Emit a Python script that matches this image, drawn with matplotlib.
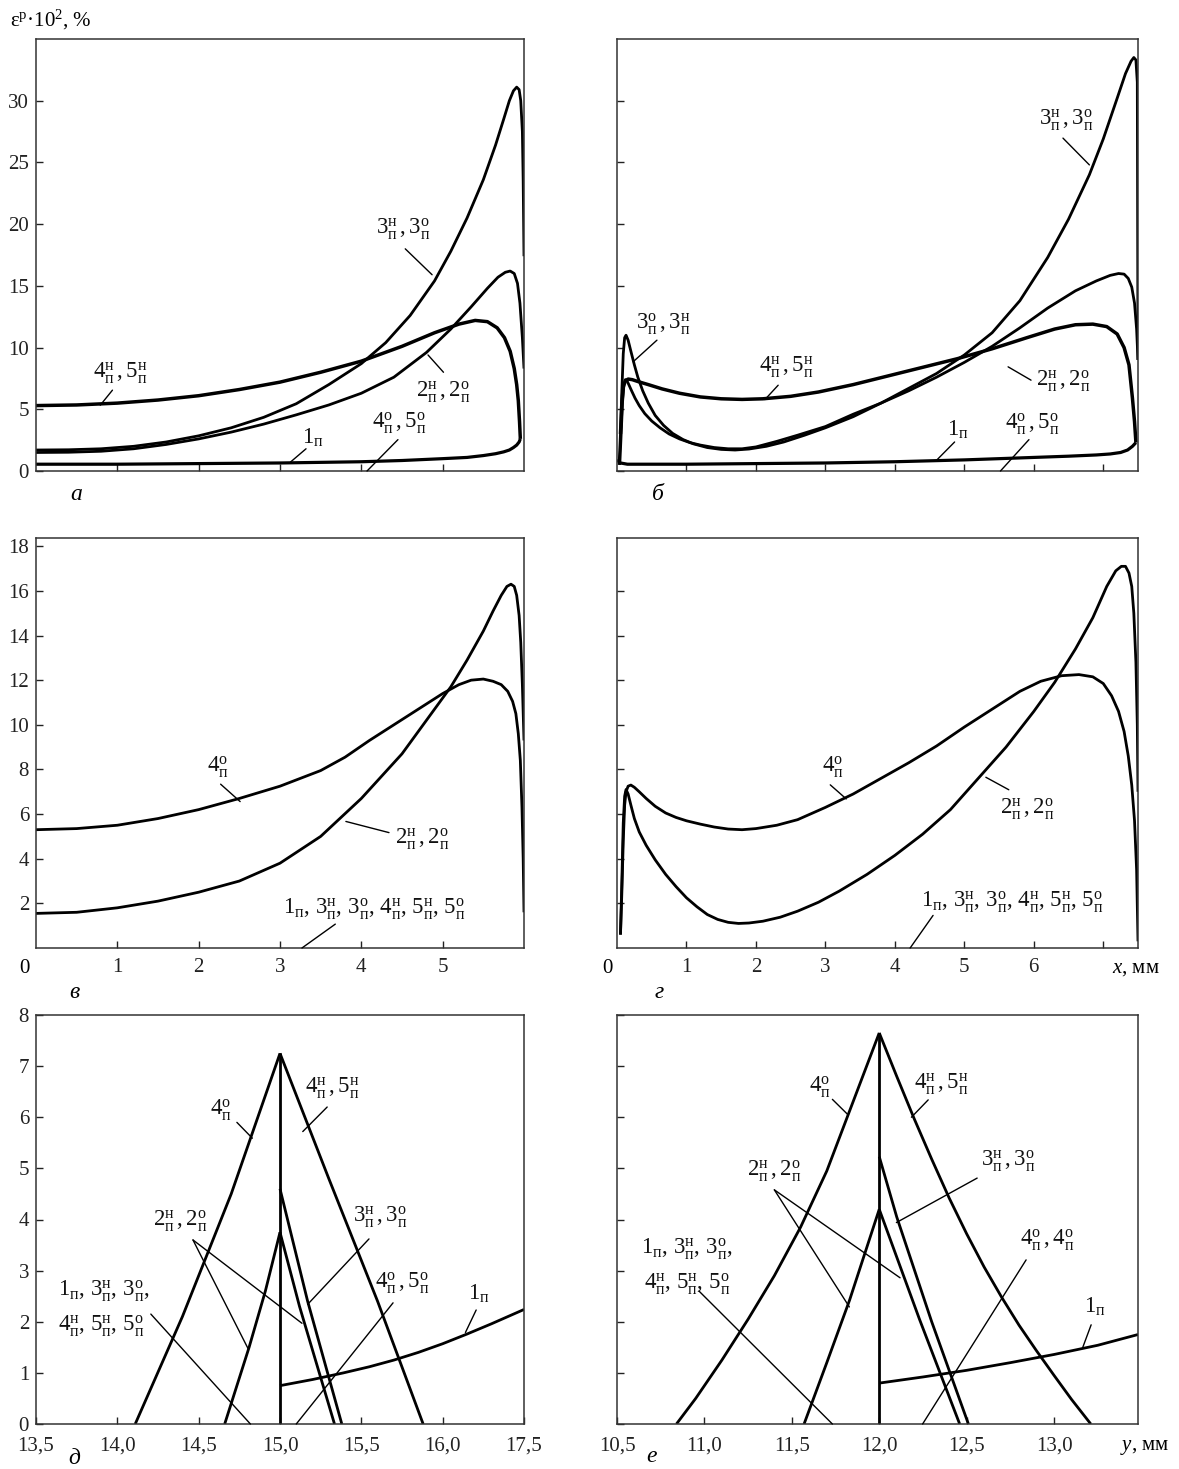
import matplotlib.pyplot as plt

# --- Fonts ---
plt.rcParams['font.family'] = ['Liberation Serif', 'DejaVu Serif']
plt.rcParams['mathtext.fontset'] = 'custom'
plt.rcParams['mathtext.rm'] = 'Liberation Serif'
plt.rcParams['mathtext.it'] = 'Liberation Serif:italic'
plt.rcParams['mathtext.bf'] = 'Liberation Serif:bold'

# --- Data: panel a ---
a_x3 = [0, 0.4, 0.8, 1.2, 1.6, 2.0, 2.4, 2.8, 3.2, 3.6, 4.0, 4.3, 4.6, 4.9, 5.1, 5.3, 5.5, 5.65, 5.75,
        5.82, 5.87, 5.91, 5.94, 5.96, 5.98, 5.99, 6.0]
a_y3 = [1.7, 1.72, 1.8, 2.0, 2.35, 2.85, 3.5, 4.35, 5.45, 7.0, 8.7, 10.4, 12.6, 15.4, 17.8, 20.5, 23.6, 26.4, 28.5,
        30.0, 30.8, 31.1, 30.9, 30.0, 27.5, 23.5, 17.4]
a_x2 = [0, 0.4, 0.8, 1.2, 1.6, 2.0, 2.4, 2.8, 3.2, 3.6, 4.0, 4.4, 4.8, 5.1, 5.35, 5.55, 5.68, 5.77, 5.83,
        5.88, 5.92, 5.95, 5.98, 6.0]
a_y2 = [1.5, 1.52, 1.6, 1.8, 2.15, 2.6, 3.15, 3.8, 4.55, 5.35, 6.3, 7.6, 9.6, 11.5, 13.3, 14.8, 15.7, 16.1, 16.2,
        16.0, 15.2, 13.6, 10.8, 8.3]
a_x4 = [0, 0.5, 1.0, 1.5, 2.0, 2.5, 3.0, 3.5, 4.0, 4.5, 4.9, 5.2, 5.4, 5.55, 5.67, 5.76, 5.83, 5.88, 5.91,
        5.93, 5.945, 5.955]
a_y4 = [5.3, 5.35, 5.5, 5.75, 6.1, 6.6, 7.2, 8.0, 8.9, 10.1, 11.2, 11.9, 12.2, 12.1, 11.6, 10.8, 9.7, 8.3, 7.0,
        5.7, 4.0, 2.6]
a_x1 = [0, 1, 2, 3, 4, 4.5, 5.0, 5.3, 5.5, 5.65, 5.75, 5.82, 5.87, 5.91, 5.94, 5.955]
a_y1 = [0.55, 0.55, 0.6, 0.65, 0.75, 0.85, 1.0, 1.1, 1.25, 1.4, 1.55, 1.7, 1.9, 2.1, 2.35, 2.6]

# --- Data: panel б ---
b_x3 = [0.03, 0.05, 0.07, 0.09, 0.11, 0.13, 0.16, 0.2, 0.25, 0.3, 0.37, 0.45, 0.55, 0.67, 0.8, 0.95, 1.1,
        1.3, 1.5, 1.7, 1.9, 2.15, 2.4, 2.7, 3.0, 3.4, 3.8, 4.2, 4.6, 5.0, 5.4, 5.8, 6.2, 6.5, 6.8, 7.0,
        7.2, 7.32, 7.4, 7.44, 7.47, 7.49, 7.5]
b_y3 = [0.5, 3.0, 6.5, 9.5, 10.8, 11.0, 10.6, 9.7, 8.6, 7.6, 6.5, 5.5, 4.5, 3.7, 3.05, 2.55, 2.2,
        1.9, 1.75, 1.7, 1.78, 2.0, 2.35, 2.9, 3.5, 4.4, 5.5, 6.7, 7.9, 9.4, 11.2, 13.8, 17.3, 20.4, 24.0, 26.9,
        30.2, 32.2, 33.2, 33.5, 33.3, 31.5, 9.0]
b_x2 = [0.04, 0.06, 0.08, 0.1, 0.12, 0.14, 0.17, 0.21, 0.26, 0.32, 0.4, 0.5, 0.62, 0.75, 0.9, 1.05, 1.2,
        1.4, 1.6, 1.8, 2.0, 2.3, 2.6, 3.0, 3.4, 3.8, 4.2, 4.6, 5.0, 5.4, 5.8, 6.2, 6.6, 6.9, 7.1, 7.22,
        7.3, 7.36, 7.41, 7.45, 7.48, 7.5]
b_y2 = [0.5, 3.0, 5.6, 7.0, 7.4, 7.35, 7.0, 6.5, 5.9, 5.3, 4.65, 4.05, 3.5, 3.0, 2.6, 2.3, 2.1,
        1.9, 1.8, 1.8, 1.95, 2.4, 2.9, 3.6, 4.6, 5.5, 6.5, 7.6, 8.8, 10.1, 11.6, 13.2, 14.6, 15.4, 15.85, 16.0,
        15.95, 15.6, 14.9, 13.6, 11.5, 9.0]
b_x4 = [0.05, 0.07, 0.09, 0.12, 0.16, 0.22, 0.3, 0.45, 0.65, 0.9, 1.2, 1.5, 1.8, 2.1, 2.5, 2.9, 3.4,
        3.9, 4.4, 4.9, 5.4, 5.9, 6.3, 6.6, 6.85, 7.05, 7.2, 7.3, 7.37, 7.42, 7.45, 7.47]
b_y4 = [3.0, 5.5, 6.8, 7.3, 7.45, 7.4, 7.25, 7.0, 6.65, 6.3, 6.0, 5.85, 5.8, 5.85, 6.05, 6.4, 7.0,
        7.7, 8.4, 9.1, 9.9, 10.8, 11.5, 11.85, 11.9, 11.7, 11.1, 10.0, 8.6, 5.9, 4.0, 2.3]
b_x1 = [0.0, 0.05, 0.15, 0.5, 1, 2, 3, 4, 5, 5.5, 6, 6.5, 6.9, 7.1, 7.25, 7.35, 7.42, 7.47]
b_y1 = [0.9, 0.65, 0.55, 0.55, 0.55, 0.6, 0.65, 0.75, 0.9, 1.0, 1.1, 1.2, 1.3, 1.38, 1.5, 1.7, 2.0, 2.3]

# --- Data: panel в ---
v_x4 = [0, 0.5, 1.0, 1.5, 2.0, 2.5, 3.0, 3.5, 3.8, 4.1, 4.4, 4.7, 5.0, 5.2, 5.35, 5.5, 5.62, 5.72, 5.8,
        5.86, 5.9, 5.93, 5.955, 5.975, 5.99, 6.0]
v_y4 = [5.3, 5.35, 5.5, 5.8, 6.2, 6.7, 7.25, 7.95, 8.55, 9.3, 10.0, 10.7, 11.4, 11.8, 12.0, 12.05, 11.95, 11.8, 11.5,
        11.05, 10.5, 9.6, 8.4, 6.3, 4.0, 1.6]
v_x2 = [0, 0.5, 1.0, 1.5, 2.0, 2.5, 3.0, 3.5, 4.0, 4.5, 4.8, 5.1, 5.3, 5.5, 5.62, 5.72, 5.79, 5.84, 5.88,
        5.91, 5.94, 5.96, 5.98, 6.0]
v_y2 = [1.55, 1.6, 1.8, 2.1, 2.5, 3.0, 3.8, 5.0, 6.7, 8.7, 10.2, 11.7, 12.9, 14.2, 15.1, 15.8, 16.2, 16.3, 16.2,
        15.8, 14.9, 13.7, 11.8, 9.3]

# --- Data: panel г ---
g_x4 = [0.05, 0.07, 0.09, 0.11, 0.13, 0.16, 0.2, 0.25, 0.32, 0.42, 0.55, 0.7, 0.85, 1.0, 1.2, 1.4, 1.6,
        1.8, 2.0, 2.3, 2.6, 3.0, 3.4, 3.8, 4.2, 4.6, 5.0, 5.4, 5.8, 6.1, 6.4, 6.65, 6.85, 7.0, 7.12, 7.22,
        7.3, 7.36, 7.41, 7.45, 7.48, 7.5]
g_y4 = [0.6, 2.5, 4.8, 6.4, 7.0, 7.25, 7.3, 7.2, 7.0, 6.7, 6.35, 6.05, 5.85, 5.7, 5.55, 5.42, 5.33,
        5.3, 5.35, 5.5, 5.75, 6.3, 6.9, 7.6, 8.3, 9.05, 9.9, 10.7, 11.5, 11.95, 12.2, 12.25, 12.15, 11.85, 11.3, 10.6,
        9.7, 8.6, 7.3, 5.7, 3.5, 0.3]
g_x2 = [0.05, 0.07, 0.09, 0.11, 0.13, 0.16, 0.2, 0.25, 0.32, 0.42, 0.55, 0.7, 0.85, 1.0, 1.15, 1.3, 1.45,
        1.6, 1.75, 1.9, 2.1, 2.35, 2.6, 2.9, 3.2, 3.6, 4.0, 4.4, 4.8, 5.2, 5.6, 6.0, 6.3, 6.6, 6.85, 7.05,
        7.18, 7.26, 7.32, 7.37, 7.41, 7.44, 7.47, 7.49, 7.5]
g_y2 = [0.6, 3.0, 5.6, 6.8, 7.1, 6.9, 6.4, 5.8, 5.2, 4.6, 3.95, 3.3, 2.75, 2.25, 1.85, 1.5, 1.28,
        1.15, 1.1, 1.12, 1.2, 1.38, 1.65, 2.05, 2.55, 3.3, 4.15, 5.1, 6.2, 7.6, 9.0, 10.6, 11.9, 13.4, 14.8, 16.2,
        16.9, 17.1, 17.1, 16.8, 16.2, 15.0, 12.8, 10.0, 7.0]

# --- Data: panel д ---
d_x4o = [14.11, 14.4, 14.7, 15.0]
d_y4o = [0, 2.1, 4.5, 7.25]
d_x4n = [15.0, 15.3, 15.6, 15.88]
d_y4n = [7.25, 4.8, 2.4, 0]
d_xv = [15.0, 15.0]
d_yv = [0, 7.25]
d_x2l = [14.66, 14.81, 14.91, 15.0]
d_y2l = [0, 1.5, 2.6, 3.75]
d_x2r = [15.0, 15.12, 15.335]
d_y2r = [3.75, 2.3, 0]
d_x3r = [15.0, 15.17, 15.38]
d_y3r = [4.6, 2.4, 0]
d_x1 = [15.0, 15.2, 15.39, 15.55, 15.7, 15.85, 16.0, 16.15, 16.3, 16.5]
d_y1 = [0.75, 0.87, 1.0, 1.12, 1.25, 1.4, 1.57, 1.76, 1.96, 2.24]

# --- Data: panel е ---
e_x4o = [10.84, 10.95, 11.1, 11.25, 11.4, 11.55, 11.7, 11.85, 12.0]
e_y4o = [0, 0.5, 1.25, 2.05, 2.9, 3.85, 4.95, 6.3, 7.65]
e_x4n = [12.0, 12.1, 12.2, 12.3, 12.4, 12.5, 12.6, 12.7, 12.8, 12.9, 13.0, 13.1, 13.21]
e_y4n = [7.65, 6.8, 5.97, 5.18, 4.42, 3.72, 3.07, 2.48, 1.93, 1.43, 0.95, 0.48, 0]
e_xv = [12.0, 12.0]
e_yv = [0, 7.65]
e_x2l = [11.57, 11.7, 11.83, 12.0]
e_y2l = [0, 1.2, 2.42, 4.2]
e_x2r = [12.0, 12.23, 12.46]
e_y2r = [4.2, 2.05, 0]
e_x3r = [12.0, 12.1, 12.3, 12.51]
e_y3r = [5.23, 4.05, 2.0, 0]
e_x1 = [12.0, 12.25, 12.5, 12.75, 13.0, 13.25, 13.48]
e_y1 = [0.8, 0.92, 1.05, 1.2, 1.36, 1.54, 1.75]

# --- Tick labels ---
a_yticks = [0, 5, 10, 15, 20, 25, 30]
v_yticks = [2, 4, 6, 8, 10, 12, 14, 16, 18]
v_xticks = [1, 2, 3, 4, 5]
g_xticks = [1, 2, 3, 4, 5, 6, 7]
d_yticks = [0, 1, 2, 3, 4, 5, 6, 7, 8]
d_xticks = [13.5, 14.0, 14.5, 15.0, 15.5, 16.0, 16.5]
d_xlabels = ['13,5', '14,0', '14,5', '15,0', '15,5', '16,0', '17,5']
e_xticks = [10.5, 11.0, 11.5, 12.0, 12.5, 13.0]
e_xlabels = ['10,5', '11,0', '11,5', '12,0', '12,5', '13,0']


def m(n, s=None):
    # curve index with superscript н/о and subscript п
    if s is None:
        return r'%s_{\mathrm{п}}' % n
    return r'%s^{\mathrm{%s}}_{\mathrm{п}}' % (n, s)


def pair(a, b):
    return '$' + a + r'\,,' + b + '$'


L_3n3o = pair(m(3, 'н'), m(3, 'о'))
L_3o3n = pair(m(3, 'о'), m(3, 'н'))
L_4n5n = pair(m(4, 'н'), m(5, 'н'))
L_2n2o = pair(m(2, 'н'), m(2, 'о'))
L_4o5o = pair(m(4, 'о'), m(5, 'о'))
L_4o4o = pair(m(4, 'о'), m(4, 'о'))
L_4o = '$' + m(4, 'о') + '$'
L_1 = '$' + m(1) + '$'
L_all = ('$' + m(1) + '$, $' + m(3, 'н') + '$, $' + m(3, 'о') + '$, $' + m(4, 'н') + '$, $'
         + m(5, 'н') + '$, $' + m(5, 'о') + '$')
L_top = '$' + m(1) + '$, $' + m(3, 'н') + '$, $' + m(3, 'о') + '$,'
L_bot = '$' + m(4, 'н') + '$, $' + m(5, 'н') + '$, $' + m(5, 'о') + '$'

# --- Layout (pixel boxes of the original) ---
W, H = 1179, 1469
fig = plt.figure(figsize=(W / 100, H / 100), dpi=100)


def box(l, t, r, b):
    return [l / W, 1 - b / H, (r - l) / W, (b - t) / H]


ax_a = fig.add_axes(box(36, 39, 524, 471))
ax_b = fig.add_axes(box(617, 39, 1138, 471))
ax_v = fig.add_axes(box(36, 538, 524, 948))
ax_g = fig.add_axes(box(617, 538, 1138, 948))
ax_d = fig.add_axes(box(36, 1015, 524, 1424))
ax_e = fig.add_axes(box(617, 1015, 1138, 1424))

LW = 2.0
FS = 15     # tick labels
LFS = 16.5  # curve labels


def style(ax, xlim, ylim, xt, yt):
    ax.set_xlim(xlim)
    ax.set_ylim(ylim)
    ax.set_xticks(xt)
    ax.set_yticks(yt)
    ax.tick_params(direction='in', length=5, width=1.0, labelsize=FS,
                   top=False, right=False, colors='#222222')
    ax.tick_params(axis='x', pad=7)
    ax.tick_params(axis='y', pad=5)
    for s in ax.spines.values():
        s.set_linewidth(1.1)
        s.set_color('#333333')


def curve(ax, x, y, lw=LW):
    ax.plot(x, y, color='black', lw=lw, solid_capstyle='butt', solid_joinstyle='round')


def label(ax, txt, x, y, leaders=(), fs=LFS):
    ax.text(x, y, txt, ha='center', va='center', fontsize=fs, color='#111111')
    for (x1, y1, x2, y2) in leaders:
        ax.annotate('', xy=(x2, y2), xytext=(x1, y1),
                    arrowprops=dict(arrowstyle='-', lw=1.0, color='black',
                                    shrinkA=0, shrinkB=0))


# --- Panel a ---
style(ax_a, (0, 6), (0, 35), [1, 2, 3, 4, 5], a_yticks)
ax_a.set_xticklabels([])
ax_a.set_yticklabels([str(v) for v in a_yticks])
curve(ax_a, a_x3, a_y3)
curve(ax_a, a_x2, a_y2)
curve(ax_a, a_x4, a_y4, lw=2.5)
curve(ax_a, a_x1, a_y1, lw=2.3)
label(ax_a, L_3n3o, 4.52, 19.6, [(4.54, 18.0, 4.87, 15.9)])
label(ax_a, L_4n5n, 1.04, 7.95, [(0.94, 6.55, 0.79, 5.33)])
label(ax_a, L_2n2o, 5.01, 6.4, [(5.01, 8.0, 4.82, 9.4)])
label(ax_a, L_1, 3.4, 2.7, [(3.32, 1.8, 3.13, 0.73)])
label(ax_a, L_4o5o, 4.47, 3.84, [(4.45, 2.54, 4.07, 0)])

# --- Panel б ---
style(ax_b, (0, 7.5), (0, 35), [1, 2, 3, 4, 5, 6, 7], a_yticks)
ax_b.set_xticklabels([])
ax_b.set_yticklabels([])
curve(ax_b, b_x3, b_y3)
curve(ax_b, b_x2, b_y2)
curve(ax_b, b_x4, b_y4, lw=2.5)
curve(ax_b, b_x1, b_y1, lw=2.3)
label(ax_b, L_3n3o, 6.47, 28.45, [(6.42, 26.97, 6.8, 24.8)])
label(ax_b, L_3o3n, 0.67, 11.9, [(0.575, 10.6, 0.233, 8.85)])
label(ax_b, L_4n5n, 2.43, 8.44, [(2.32, 6.95, 2.13, 5.79)])
label(ax_b, L_2n2o, 6.42, 7.3, [(5.96, 7.36, 5.63, 8.44)])
label(ax_b, L_1, 4.9, 3.3, [(4.86, 2.35, 4.6, 0.87)])
label(ax_b, L_4o5o, 5.98, 3.79, [(5.93, 2.54, 5.52, 0)])

# --- Panel в ---
style(ax_v, (0, 6), (0, 18.37), v_xticks, v_yticks)
ax_v.set_xticklabels([str(v) for v in v_xticks])
ax_v.set_yticklabels([str(v) for v in v_yticks])
curve(ax_v, v_x4, v_y4)
curve(ax_v, v_x2, v_y2)
label(ax_v, L_4o, 2.235, 8.08, [(2.27, 7.34, 2.51, 6.56)])
label(ax_v, L_2n2o, 4.75, 4.88, [(4.34, 5.17, 3.81, 5.67)])
label(ax_v, L_all, 4.155, 1.74, [(3.68, 1.07, 3.27, 0)])
ax_v.annotate('0', xy=(0, 0), xycoords='axes fraction', xytext=(-8, -15),
              textcoords='offset points', ha='center', va='center', fontsize=FS)

# --- Panel г ---
style(ax_g, (0, 7.5), (0, 18.37), g_xticks, v_yticks[:-1])
ax_g.set_xticklabels([str(v) for v in g_xticks[:-1]] + [''])
ax_g.set_yticklabels([])
curve(ax_g, g_x4, g_y4)
curve(ax_g, g_x2, g_y2)
label(ax_g, L_4o, 3.11, 8.11, [(3.07, 7.31, 3.3, 6.68)])
label(ax_g, L_2n2o, 5.9, 6.21, [(5.64, 7.09, 5.31, 7.65)])
label(ax_g, L_all, 5.69, 2.05, [(4.55, 1.46, 4.22, 0)])
ax_g.annotate('0', xy=(0, 0), xycoords='axes fraction', xytext=(-7, -15),
              textcoords='offset points', ha='center', va='center', fontsize=FS)
ax_g.annotate('$x$, мм', xy=(7.12 / 7.5, 0), xycoords='axes fraction', xytext=(0, -15),
              textcoords='offset points', ha='left', va='center', fontsize=FS)

# --- Panel д ---
style(ax_d, (13.5, 16.5), (0, 8), d_xticks, d_yticks)
ax_d.set_xticklabels(d_xlabels)
ax_d.set_yticklabels([str(v) for v in d_yticks])
ax_d.tick_params(axis='x', pad=9)
for xs, ys in [(d_x4o, d_y4o), (d_x4n, d_y4n), (d_xv, d_yv), (d_x2l, d_y2l),
               (d_x2r, d_y2r), (d_x3r, d_y3r), (d_x1, d_y1)]:
    curve(ax_d, xs, ys)
label(ax_d, L_4o, 14.634, 6.13, [(14.735, 5.9, 14.83, 5.59)])
label(ax_d, L_4n5n, 15.32, 6.57, [(15.29, 6.2, 15.14, 5.72)])
label(ax_d, L_2n2o, 14.387, 3.97, [(14.465, 3.6, 14.806, 1.46), (14.465, 3.6, 15.135, 1.97)])
label(ax_d, L_3n3o, 15.618, 4.05, [(15.547, 3.62, 15.17, 2.34)])
label(ax_d, L_4o5o, 15.75, 2.75, [(15.695, 2.37, 15.1, 0)])
label(ax_d, L_1, 16.22, 2.54, [(16.206, 2.23, 16.14, 1.79)])
label(ax_d, L_top, 13.917, 2.6)
label(ax_d, L_bot, 13.9, 1.91, [(14.206, 2.15, 14.818, 0)])

# --- Panel е ---
style(ax_e, (10.5, 13.48), (0, 8), e_xticks, d_yticks)
ax_e.set_xticklabels(e_xlabels)
ax_e.set_yticklabels([])
ax_e.tick_params(axis='x', pad=9)
for xs, ys in [(e_x4o, e_y4o), (e_x4n, e_y4n), (e_xv, e_yv), (e_x2l, e_y2l),
               (e_x2r, e_y2r), (e_x3r, e_y3r), (e_x1, e_y1)]:
    curve(ax_e, xs, ys)
label(ax_e, L_4o, 11.661, 6.58, [(11.732, 6.35, 11.818, 6.06)])
label(ax_e, L_4n5n, 12.356, 6.65, [(12.28, 6.34, 12.184, 6.0)])
label(ax_e, L_2n2o, 11.4, 4.94, [(11.4, 4.58, 11.829, 2.29), (11.4, 4.58, 12.119, 2.86)])
label(ax_e, L_3n3o, 12.737, 5.13, [(12.56, 4.81, 12.098, 3.94)])
label(ax_e, L_4o4o, 12.958, 3.6, [(12.84, 3.21, 12.248, 0)])
label(ax_e, L_1, 13.231, 2.29, [(13.212, 1.94, 13.162, 1.48)])
label(ax_e, L_top, 10.9, 3.41)
label(ax_e, L_bot, 10.9, 2.73, [(10.969, 2.6, 11.732, 0)])
ax_e.annotate('$y$, мм', xy=(0.965, 0), xycoords='axes fraction', xytext=(0, -17),
              textcoords='offset points', ha='left', va='center', fontsize=FS)

# --- Axis title and panel letters ---
fig.text(10 / W, 1 - 20 / H, 'ε$^{\\mathrm{р}}$·10$^{2}$, %', fontsize=FS, va='center', ha='left')
for ch, px, py in [('а', 76, 494), ('б', 658, 494), ('в', 74, 993),
                   ('г', 659, 993), ('д', 74, 1458), ('е', 652, 1457)]:
    fig.text(px / W, 1 - py / H, ch, fontsize=17, style='italic', ha='center', va='center')

fig.savefig('out.png', dpi=100)
